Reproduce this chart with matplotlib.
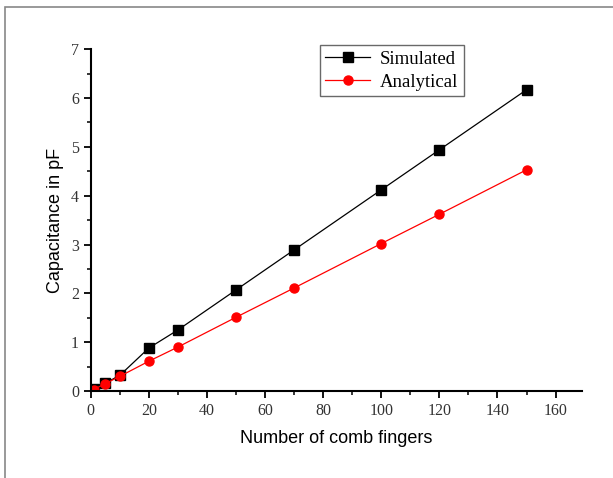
import matplotlib.pyplot as plt
from matplotlib.ticker import MultipleLocator
from matplotlib.patches import Rectangle

fingers = [1, 5, 10, 20, 30, 50, 70, 100, 120, 150]
simulated = [0.04, 0.16, 0.32, 0.88, 1.25, 2.07, 2.89, 4.12, 4.94, 6.17]
analytical = [0.03, 0.15, 0.30, 0.61, 0.90, 1.51, 2.11, 3.02, 3.62, 4.53]

fig = plt.figure(figsize=(6.13, 4.78), dpi=100)
ax = fig.add_axes([0.148, 0.182, 0.801, 0.715])

# outer frame of the original image
fig.patches.append(Rectangle((0.008, -0.1), 1.2, 1.085, transform=fig.transFigure,
                             fill=False, edgecolor='#888888', linewidth=1.2))

ax.plot(fingers, simulated, color='black', marker='s', markersize=6.5, linewidth=0.9,
        label='Simulated')
ax.plot(fingers, analytical, color='red', marker='o', markersize=6.5, linewidth=0.9,
        label='Analytical')

ax.set_xlim(0, 169)
ax.set_ylim(0, 7)
ax.xaxis.set_major_locator(MultipleLocator(20))
ax.xaxis.set_minor_locator(MultipleLocator(10))
ax.yaxis.set_major_locator(MultipleLocator(1))
ax.yaxis.set_minor_locator(MultipleLocator(0.5))

for s in ['top', 'right']:
    ax.spines[s].set_visible(False)
for s in ['left', 'bottom']:
    ax.spines[s].set_linewidth(1.5)
ax.tick_params(which='major', direction='out', length=5, width=1.3)
ax.tick_params(which='minor', direction='out', length=3, width=1.1)
for lab in ax.get_xticklabels() + ax.get_yticklabels():
    lab.set_fontfamily('Liberation Serif')
    lab.set_fontsize(11.5)
    lab.set_color('#333333')

ax.set_xlabel('Number of comb fingers', fontfamily='Liberation Sans', fontsize=13, labelpad=8)
ax.set_ylabel('Capacitance in pF', fontfamily='Liberation Sans', fontsize=13, labelpad=5)

leg = ax.legend(loc='upper left', bbox_to_anchor=(0.466, 1.012), borderaxespad=0,
                prop={'family': 'Liberation Serif', 'size': 13.5},
                fancybox=False, edgecolor='#444444', handlelength=2.4,
                borderpad=0.3, labelspacing=0.3, handletextpad=0.5)
leg.get_frame().set_linewidth(1.0)

fig.savefig('out.png', dpi=100)
